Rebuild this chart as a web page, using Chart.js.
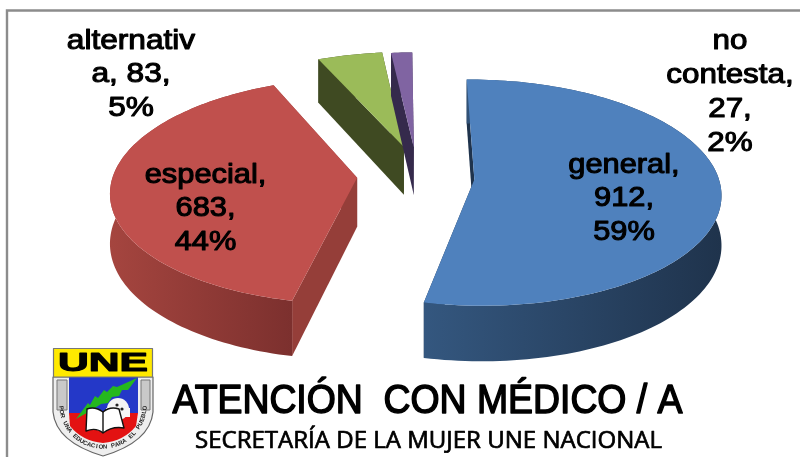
<!DOCTYPE html>
<html><head><meta charset="utf-8">
<style>html,body{margin:0;padding:0;background:#fff}#box{width:800px;height:457px;position:relative}canvas{display:block}</style>
<script src="https://cdn.jsdelivr.net/npm/chart.js@4"></script>
</head><body><div id="box"><canvas id="c" width="800" height="457"></canvas></div>
<script>
const categories = ['general', 'especial', 'alternativa', 'no contesta'];
const values = [912, 683, 83, 27];
const percentLabels = ['59%', '44%', '5%', '2%'];
const titleText = 'ATENCIÓN  CON MÉDICO / A';
const subtitleText = 'SECRETARÍA DE LA MUJER UNE NACIONAL';
const logoMotto = 'POR UNA EDUCACION PARA EL PUEBLO';

const topColors = ['#4f81bd', '#c0504d', '#9bbb59', '#8064a2'];
const wallLeft = ['#34577f', '#a5453f', '#3f4a22', '#352a4c'];
const wallRight = ['#1f334c', '#7c302e', '#3f4a22', '#352a4c'];
const cutWall = ['#1f334c', '#953e39', '#3f4a22', '#352a4c'];
const explode = [224, 232, 224, 224];
const nudge = [[1.5, 0], [-2, -2], [1, -6], [0, -5]];
const labelBlocks = [
  {x:624, y:165, pitch:33.5, sx:1.1, lines:['general,','912,','59%']},
  {x:205.5, y:175, pitch:33.5, sx:1.1, lines:['especial,','683,','44%']},
  {x:131, y:41, pitch:33.5, sx:1.13, lines:['alternativ','a, 83,','5%']},
  {x:730, y:41, pitch:34, sx:1.12, lines:['no','contesta,','27,','2%']}
];

const K = 0.115, A = 0.455, DEPTH = 49;
function project(arc, u, v, n){
  const R = arc.outerRadius, t = v / R, s = 1 / (1 - K * t);
  return {x: arc.x + n[0] + u * s, y: arc.y + n[1] + A * R * t * s, s};
}
function slicePoints(arc, n){
  const d = (arc.options.offset || 0) / 4;
  const mid = (arc.startAngle + arc.endAngle) / 2;
  const ou = Math.cos(mid) * d, ov = Math.sin(mid) * d;
  const R = arc.outerRadius;
  const pts = [];
  const steps = Math.max(6, Math.round((arc.endAngle - arc.startAngle) * 40));
  for (let i = 0; i <= steps; i++){
    const a = arc.startAngle + (arc.endAngle - arc.startAngle) * i / steps;
    pts.push(project(arc, ou + Math.cos(a) * R, ov + Math.sin(a) * R, n));
  }
  return {rim: pts, apex: project(arc, ou, ov, n)};
}
function quad(ctx, a, b, fill){
  ctx.fillStyle = fill;
  ctx.beginPath();
  ctx.moveTo(a.x, a.y); ctx.lineTo(b.x, b.y);
  ctx.lineTo(b.x, b.y + DEPTH * b.s); ctx.lineTo(a.x, a.y + DEPTH * a.s);
  ctx.closePath(); ctx.fill();
}
const pie3d = {
  id: 'pie3d',
  beforeDatasetDraw(chart){
    const ctx = chart.ctx, arcs = chart.getDatasetMeta(0).data;
    [2, 3, 1, 0].forEach(i => {
      const {rim, apex} = slicePoints(arcs[i], nudge[i]);
      const minX = Math.min(...rim.map(p => p.x)), maxX = Math.max(...rim.map(p => p.x));
      const grad = ctx.createLinearGradient(minX, 0, maxX, 0);
      grad.addColorStop(0, wallLeft[i]);
      grad.addColorStop(1, wallRight[i]);
      quad(ctx, rim[rim.length - 1], apex, cutWall[i]);
      quad(ctx, apex, rim[0], cutWall[i]);
      ctx.fillStyle = grad;
      ctx.beginPath();
      rim.forEach((p, k) => k ? ctx.lineTo(p.x, p.y) : ctx.moveTo(p.x, p.y));
      rim.slice().reverse().forEach(p => ctx.lineTo(p.x, p.y + DEPTH * p.s));
      ctx.closePath(); ctx.fill();
      ctx.fillStyle = topColors[i];
      ctx.beginPath(); ctx.moveTo(apex.x, apex.y);
      rim.forEach(p => ctx.lineTo(p.x, p.y));
      ctx.closePath(); ctx.fill();
    });
    return false;
  },
  afterDraw(chart){
    const ctx = chart.ctx;
    ctx.save();
    ctx.textAlign = 'center'; ctx.textBaseline = 'middle'; ctx.fillStyle = '#000'; ctx.strokeStyle = '#000';
    ctx.font = '28px "Liberation Sans"'; ctx.lineWidth = 1.1; ctx.lineJoin = 'round';
    labelBlocks.forEach(l => l.lines.forEach((t, i) => {
      drawFit(ctx, t, l.x, l.y + i * l.pitch, l.sx);
    }));
    ctx.font = '40px "Liberation Sans"'; ctx.lineWidth = 1.5;
    drawWidth(ctx, titleText, 427.5, 402, 510);
    ctx.font = '23px "Open Sans"'; ctx.lineWidth = 0.7;
    drawWidth(ctx, subtitleText, 428.5, 441, 467);
    drawLogo(ctx);
    ctx.restore();
  }
};
function drawFit(ctx, t, x, y, sx){
  ctx.save(); ctx.translate(x, y); ctx.scale(sx, 1);
  ctx.fillText(t, 0, 0); ctx.strokeText(t, 0, 0); ctx.restore();
}
function drawWidth(ctx, t, x, y, w){
  const sx = w / ctx.measureText(t).width;
  ctx.save(); ctx.translate(x, y); ctx.scale(sx, 1);
  ctx.fillText(t, 0, 0); ctx.strokeText(t, 0, 0); ctx.restore();
}
function drawLogo(ctx){
  ctx.save();
  ctx.beginPath(); ctx.moveTo(53, 377); ctx.lineTo(153, 377); ctx.lineTo(153, 412);
  ctx.quadraticCurveTo(150, 442, 103, 456); ctx.quadraticCurveTo(56, 442, 53, 412); ctx.closePath();
  ctx.fillStyle = '#eeeeee'; ctx.fill();
  ctx.strokeStyle = '#666'; ctx.lineWidth = 1.2; ctx.stroke();
  ctx.fillStyle = '#fff';
  ctx.fillRect(69, 377, 69, 40);
  ctx.fillStyle = '#2438c8';
  ctx.beginPath(); ctx.moveTo(69, 377); ctx.lineTo(138, 377); ctx.lineTo(138, 413); ctx.lineTo(69, 413); ctx.closePath(); ctx.fill();
  ctx.fillStyle = '#e31212';
  ctx.beginPath(); ctx.moveTo(69, 413); ctx.lineTo(138, 413); ctx.lineTo(136, 426);
  ctx.quadraticCurveTo(124, 441, 103, 443); ctx.quadraticCurveTo(82, 441, 70, 426); ctx.closePath(); ctx.fill();
  ctx.fillStyle = '#c9c9c9'; ctx.strokeStyle = '#777'; ctx.lineWidth = 1;
  ctx.fillRect(57, 380, 10, 30); ctx.strokeRect(57, 380, 10, 30);
  ctx.fillRect(141, 380, 9, 30); ctx.strokeRect(141, 380, 9, 30);
  ctx.fillStyle = '#f4f4f4';
  ctx.beginPath(); ctx.arc(118, 409, 11, 0, Math.PI * 2); ctx.fill();
  ctx.fillRect(106, 408, 24, 9);
  ctx.fillStyle = '#222';
  ctx.beginPath(); ctx.arc(117, 405, 1.6, 0, 7); ctx.arc(122, 409, 1.6, 0, 7); ctx.fill();
  ctx.fillStyle = '#25b81e';
  ctx.beginPath(); ctx.moveTo(76, 419);
  [[88, 403], [90, 405], [95, 396], [98, 398], [104, 390], [107, 392], [113, 386], [117, 387], [137, 378],
   [128, 390], [122, 390], [119, 396], [112, 397], [108, 403], [101, 404], [92, 410]].forEach(p => ctx.lineTo(p[0], p[1]));
  ctx.closePath(); ctx.fill();
  ctx.strokeStyle = '#111'; ctx.lineWidth = 1.4; ctx.fillStyle = '#fff';
  ctx.beginPath(); ctx.moveTo(103, 412); ctx.quadraticCurveTo(95, 406, 87, 409); ctx.lineTo(86, 431);
  ctx.quadraticCurveTo(96, 427, 103, 433); ctx.quadraticCurveTo(112, 426, 124, 428); ctx.lineTo(119, 409);
  ctx.quadraticCurveTo(110, 406, 103, 412); ctx.closePath(); ctx.fill(); ctx.stroke();
  ctx.beginPath(); ctx.moveTo(103, 412); ctx.lineTo(103, 433); ctx.stroke();
  ctx.fillStyle = '#222'; ctx.font = 'bold 6px "Liberation Sans"'; ctx.textAlign = 'center'; ctx.textBaseline = 'middle';
  const cx = 103, cy = 405, r = 42, chars = logoMotto.split('');
  const span = 3.0;
  chars.forEach((ch, i) => {
    const a = Math.PI / 2 + span / 2 - span * i / (chars.length - 1);
    ctx.save(); ctx.translate(cx + Math.cos(a) * r, cy + Math.sin(a) * r);
    ctx.rotate(a - Math.PI / 2); ctx.fillText(ch, 0, 0); ctx.restore();
  });
  ctx.fillStyle = '#ffe900'; ctx.strokeStyle = '#777'; ctx.lineWidth = 1.2;
  ctx.fillRect(53.5, 348.5, 99, 28.5); ctx.strokeRect(53.5, 348.5, 99, 28.5);
  ctx.fillStyle = '#000'; ctx.strokeStyle = '#000'; ctx.lineWidth = 1;
  ctx.font = 'bold 25px "Liberation Sans"';
  const sx = 90 / ctx.measureText('UNE').width;
  ctx.translate(103, 364.5); ctx.scale(sx, 1); ctx.fillText('UNE', 0, 0); ctx.strokeText('UNE', 0, 0);
  ctx.restore();
}
const frame = {
  id: 'frame',
  beforeDraw(chart){
    const ctx = chart.ctx;
    ctx.save(); ctx.fillStyle = '#fff'; ctx.fillRect(0, 0, 800, 457);
    ctx.strokeStyle = '#8c8c8c'; ctx.lineWidth = 2.4;
    ctx.beginPath(); ctx.moveTo(7, 460); ctx.lineTo(7, 10.5); ctx.lineTo(800, 10.5); ctx.stroke();
    ctx.restore();
  }
};
new Chart(document.getElementById('c'), {
  type: 'pie',
  data: { labels: categories, datasets: [{ data: values, backgroundColor: topColors, offset: explode, borderWidth: 0, radius: 244, rotation: -0.5 }] },
  options: {
    responsive: false, animation: false,
    layout: { padding: { left: 34, bottom: 103 } },
    plugins: { legend: { display: false }, tooltip: { enabled: false } }
  },
  plugins: [frame, pie3d]
});
</script></body></html>
